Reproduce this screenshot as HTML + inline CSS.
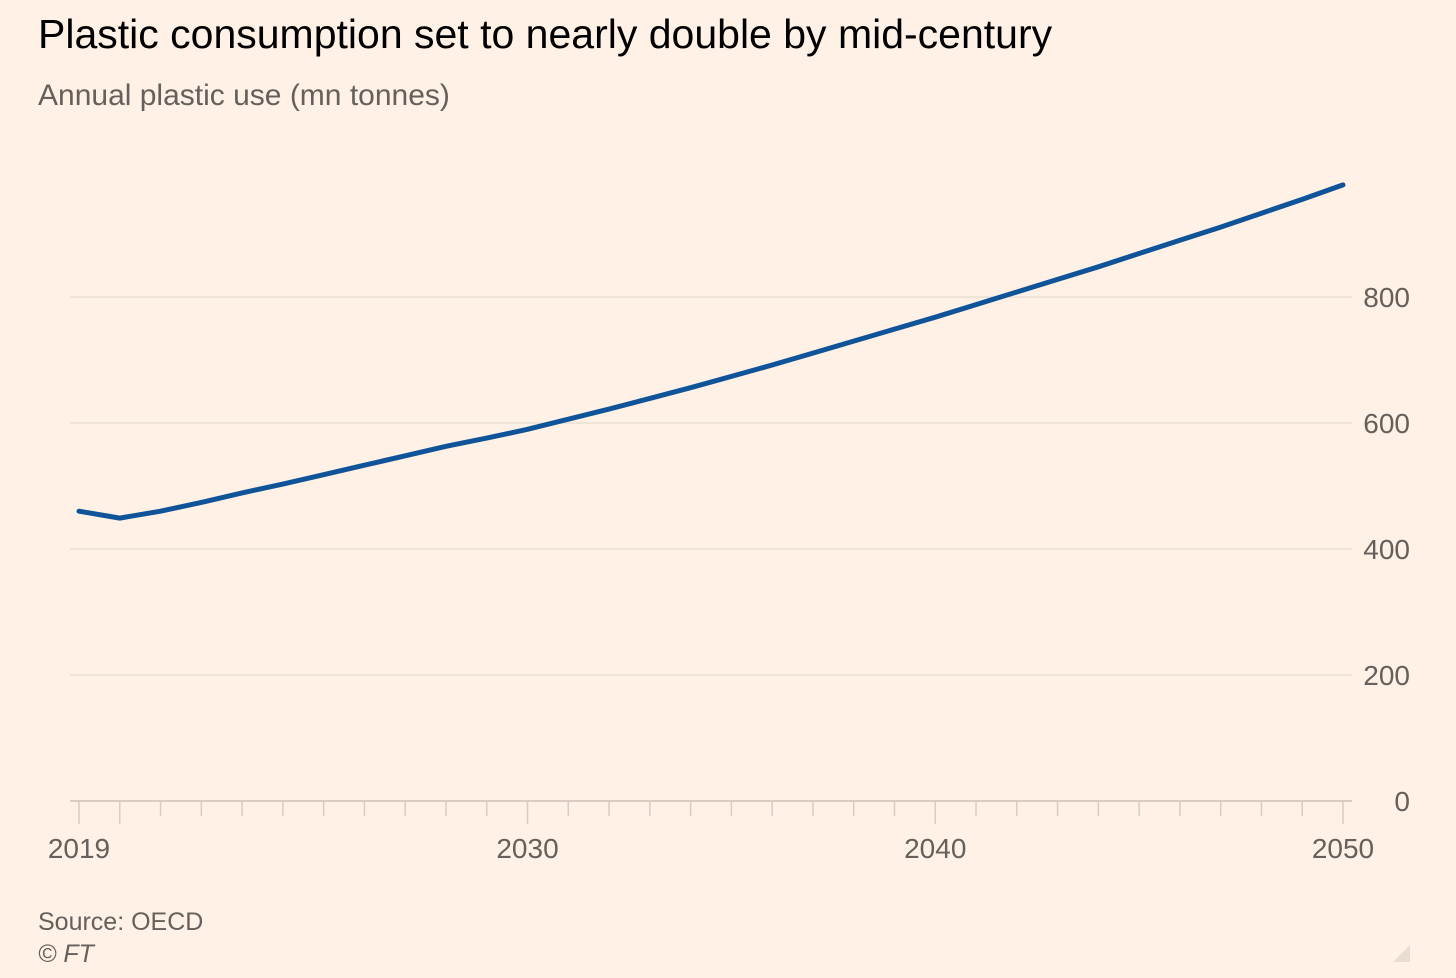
<!DOCTYPE html>
<html><head><meta charset="utf-8"><style>
html,body{margin:0;padding:0;background:#fff1e5;}
body{width:1456px;height:978px;overflow:hidden;font-family:"Liberation Sans",sans-serif;}
</style></head><body>
<svg width="1456" height="978" style="position:absolute;left:0;top:0">
<rect width="1456" height="978" fill="#fff1e5"/>
<text x="38" y="48" font-size="41" fill="#000">Plastic consumption set to nearly double by mid-century</text>
<text x="38" y="105" font-size="30" fill="#66605c">Annual plastic use (mn tonnes)</text>
<g id="grid"></g>
<g id="xax"></g>
<path id="line" fill="none" stroke="#0f5499" stroke-width="5" stroke-linejoin="round" stroke-linecap="round"/>
<text x="38" y="930" font-size="25" fill="#66605c">Source: OECD</text>
<text x="38" y="962" font-size="25" font-style="italic" fill="#66605c">© FT</text>
<polygon points="1410,945 1410,962 1393,962" fill="#e9dcd0"/>
</svg>
<script>
const years=[2019,2020,2021,2022,2023,2024,2025,2026,2027,2028,2029,2030,2031,2032,2033,2034,2035,2036,2037,2038,2039,2040,2041,2042,2043,2044,2045,2046,2047,2048,2049,2050];
const usage=[460,449,460,474,489,503,518,533,548,563,576,590,606,622,639,656,674,692,711,730,749,768,788,808,828,848,869,890,911,933,955,978];
const yTicks=[0,200,400,600,800];
const xLabels=[2019,2030,2040,2050];
const NS="http://www.w3.org/2000/svg";
const x=v=>79+(v-2019)*(1343-79)/31;
const y=v=>801-v*(801-297)/800;
const grid=document.getElementById('grid'),xax=document.getElementById('xax');
function mk(t,a,p){const e=document.createElementNS(NS,t);for(const k in a)e.setAttribute(k,a[k]);p.appendChild(e);return e;}
yTicks.forEach(v=>{
  if(v>0){const l=mk('line',{x1:70,x2:1352,y1:y(v),y2:y(v),stroke:'#e9dfd4','stroke-width':1.5},grid);
  
  }
  const t=mk('text',{x:1410,y:y(v)+10,'font-size':28,fill:'#66605c','text-anchor':'end'},grid);
  t.textContent=v;
  
  
});
const ax=mk('line',{x1:70,x2:1352,y1:801,y2:801,stroke:'#d9cdc3','stroke-width':2},xax);


for(let yr=2019;yr<=2050;yr++){
  const long=(yr===2019||yr===2020||xLabels.includes(yr));
  const tk=mk('line',{x1:x(yr),x2:x(yr),y1:801,y2:long?824:816,stroke:'#d9cdc3','stroke-width':1.5},xax);
  
  
}
xLabels.forEach(v=>{
  const t=mk('text',{x:x(v),y:858,'font-size':28,fill:'#66605c','text-anchor':'middle'},xax);
  t.textContent=v;
  
  
});
document.getElementById('line').setAttribute('d',years.map((yr,i)=>(i?'L':'M')+x(yr).toFixed(1)+','+y(usage[i]).toFixed(1)).join(''));
</script>
</body></html>
